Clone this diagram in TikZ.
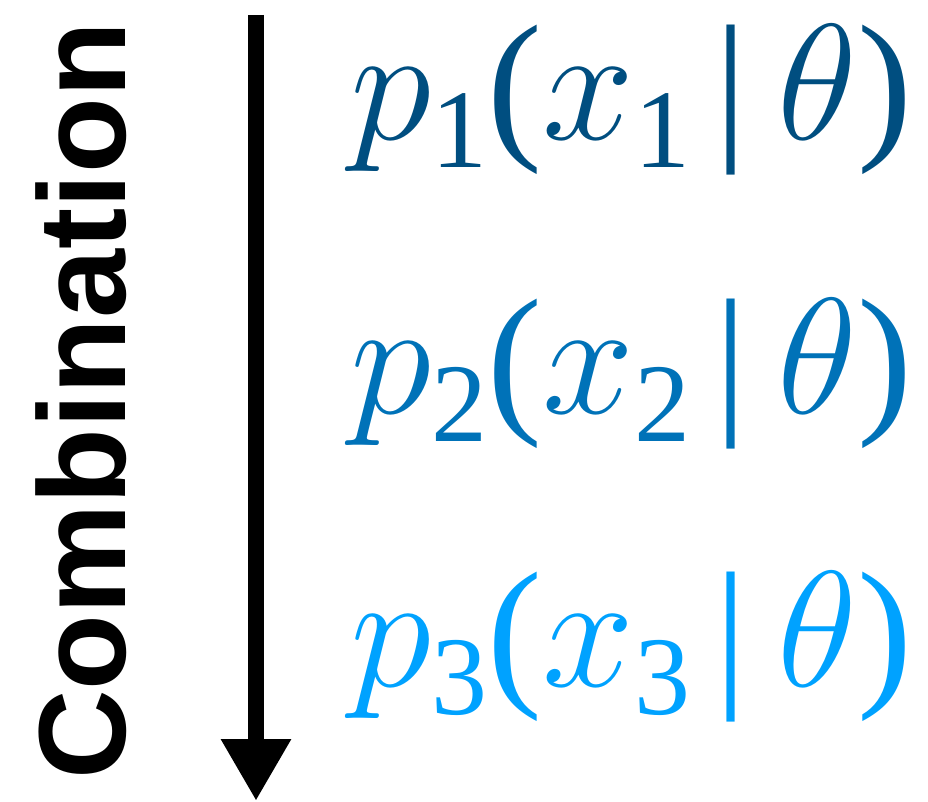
\RequirePackage{fix-cm}
\documentclass[tikz,border=0pt]{standalone}
\usepackage{fontspec}
\setmainfont{Liberation Serif}
\newfontfamily\labelfont{Liberation Sans}
\usetikzlibrary{arrows.meta, positioning}
\definecolor{rowone}{RGB}{0,78,128}
\definecolor{rowtwo}{RGB}{0,114,184}
\definecolor{rowthree}{RGB}{0,162,255}
\newcommand\subidx[1]{\raisebox{-28pt}{\fontsize{112}{112}\selectfont #1}}
\newcommand\likel[1]{$p$\subidx{#1}($x$\subidx{#1}\hspace{0.15em}|\hspace{0.18em}$\theta$)}
\tikzset{formula/.style={inner sep=0pt, anchor=base west, font=\fontsize{165}{165}\selectfont},
  combarrow/.style={line width=16pt, -{Triangle[width=66pt,length=62pt]}}}

\begin{document}
\begin{tikzpicture}[x=1pt, y=1pt]
    \useasboundingbox (0,0) rectangle (928,-802);
    % Define blocks
    \node (comb) [rotate=90, anchor=base west, inner sep=0pt, font=\labelfont\bfseries\fontsize{124}{124}\selectfont] at (125,-780) {Combination};
    \node (p1) [formula, text=rowone] at (350,-140) {\likel{1}};
    \node (p2) [formula, text=rowtwo] at (350,-413) {\likel{2}};
    \node (p3) [formula, text=rowthree] at (350,-686) {\likel{3}};
    \coordinate (top) at (256,-15);
    \coordinate (tip) at (256,-801);

    % Draw arrows
    \draw [combarrow] (top) -- (tip);
\end{tikzpicture}
\end{document}
